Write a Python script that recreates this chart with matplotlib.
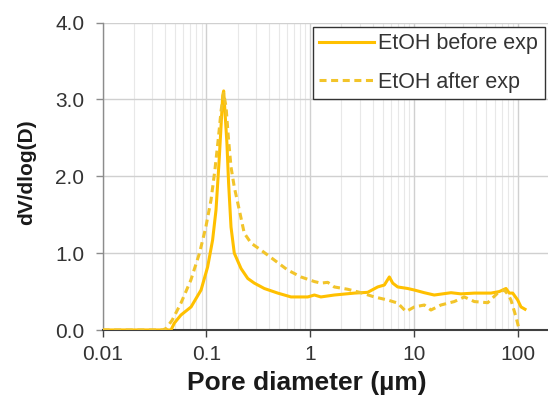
import matplotlib
matplotlib.use("Agg")
import matplotlib.pyplot as plt
from matplotlib.ticker import FixedLocator, LogLocator, NullFormatter, FuncFormatter

plt.rcParams['font.family'] = ['Liberation Sans', 'DejaVu Sans']

# EtOH before exp (solid)
before_x = [0.01, 0.0457, 0.0492, 0.057, 0.0713, 0.089, 0.103, 0.115, 0.124, 0.133, 0.144,
            0.147, 0.151, 0.158, 0.164, 0.173, 0.186, 0.216, 0.251, 0.29, 0.362, 0.488,
            0.655, 0.817, 0.949, 1.1, 1.27, 1.71, 2.67, 3.59, 4.48, 5.19, 5.8, 6.25, 6.98,
            8.7, 10.1, 12.6, 15.7, 22.8, 28.4, 38.2, 55.3, 66.5, 77.1, 83.0, 89.5, 100.0,
            107.6, 117.6]
before_y = [0.0, 0.0, 0.09, 0.195, 0.30, 0.52, 0.82, 1.17, 1.56, 2.21, 3.05,
            3.11, 2.86, 2.43, 1.91, 1.34, 1.0, 0.80, 0.67, 0.61, 0.54, 0.48,
            0.43, 0.43, 0.43, 0.455, 0.43, 0.455, 0.48, 0.49, 0.56, 0.585, 0.69, 0.61, 0.56,
            0.54, 0.52, 0.485, 0.455, 0.485, 0.47, 0.48, 0.48, 0.50, 0.54, 0.48, 0.48, 0.39,
            0.30, 0.27]

# EtOH after exp (dashed)
after_x = [0.01, 0.038, 0.041, 0.047, 0.057, 0.071, 0.086, 0.099, 0.111, 0.121, 0.131,
           0.139, 0.147, 0.155, 0.163, 0.173, 0.186, 0.208, 0.232, 0.27, 0.336, 0.452,
           0.608, 0.817, 1.1, 1.27, 1.48, 1.71, 2.3, 3.09, 4.16, 5.6, 6.98, 8.4, 10.1,
           12.6, 14.6, 18.2, 24.5, 30.6, 38.2, 51.4, 64.1, 74.3, 81.3, 86.1, 96.3, 103.6]
after_y = [0.0, 0.0, 0.02, 0.13, 0.35, 0.65, 1.0, 1.34, 1.69, 2.08, 2.51,
           2.86, 3.08, 2.90, 2.51, 2.12, 1.86, 1.56, 1.26, 1.13, 1.04, 0.91,
           0.78, 0.69, 0.63, 0.61, 0.62, 0.56, 0.53, 0.485, 0.43, 0.39, 0.35, 0.24, 0.30,
           0.325, 0.26, 0.325, 0.37, 0.43, 0.37, 0.355, 0.48, 0.52, 0.455, 0.39, 0.17, 0.0]

y_ticks = [0.0, 1.0, 2.0, 3.0, 4.0]
x_ticks = [0.01, 0.1, 1, 10, 100]
x_tick_labels = ['0.01', '0.1', '1', '10', '100']

color = '#FFC000'

W, H = 548, 399
fig = plt.figure(figsize=(W / 100, H / 100), dpi=100)
ax = fig.add_axes([102.5 / W, (H - 330) / H, 519 / W, 307.5 / H])

ax.plot(before_x, before_y, color=color, lw=2.2, label='EtOH before exp', zorder=3)
ax.plot(after_x, after_y, color='#F2C42A', lw=2.2, ls=(0, (2.3, 1.5)), label='EtOH after exp', zorder=3)

ax.set_xscale('log')
ax.set_xlim(0.01, 1000)
ax.set_ylim(0, 4.0)

ax.xaxis.set_major_locator(FixedLocator(x_ticks))
ax.set_xticklabels(x_tick_labels)
ax.xaxis.set_minor_locator(LogLocator(base=10, subs=range(2, 10)))
ax.xaxis.set_minor_formatter(NullFormatter())
ax.set_yticks(y_ticks)
ax.yaxis.set_major_formatter(FuncFormatter(lambda v, p: f'{v:.1f}'))

ax.grid(True, which='major', axis='both', color='#D0D0D0', lw=1.0, zorder=0)
ax.grid(True, which='minor', axis='x', color='#E8E8E8', lw=0.8, zorder=0)
ax.set_axisbelow(True)

for s in ['top', 'right']:
    ax.spines[s].set_visible(False)
ax.spines['left'].set_color('#8C8C8C')
ax.spines['left'].set_linewidth(1.0)
ax.spines['bottom'].set_color('#404040')
ax.spines['bottom'].set_linewidth(1.5)

ax.tick_params(axis='both', which='major', labelsize=15, colors='#8C8C8C', labelcolor='#333333',
               length=5, width=1.0, direction='out')
ax.tick_params(axis='x', which='major', colors='#404040', labelcolor='#333333', pad=6)
ax.tick_params(axis='x', which='minor', length=0)
ax.tick_params(axis='y', pad=8)

ax.set_xlabel('Pore diameter (µm)', fontsize=19, fontweight='bold', color='#1a1a1a')
ax.xaxis.set_label_coords(306.7 / W, (H - 383) / H, transform=fig.transFigure)
ax.xaxis.label.set_verticalalignment('center')
ax.set_ylabel('dV/dlog(D)', fontsize=15, fontweight='bold', color='#1a1a1a')
ax.yaxis.set_label_coords(36 / W, (H - 172) / H, transform=fig.transFigure)

leg = ax.legend(loc='upper right', bbox_to_anchor=(544.5 / W, (H - 27) / H), bbox_transform=fig.transFigure,
                fontsize=15.5, frameon=True, fancybox=False, framealpha=1, edgecolor='#333333',
                handlelength=2.55, handletextpad=0.2, borderpad=0.3, labelspacing=0.8,
                borderaxespad=0)
leg.get_frame().set_linewidth(1.0)
for t in leg.get_texts():
    t.set_color('#333333')

fig.savefig('out.png', dpi=100)
